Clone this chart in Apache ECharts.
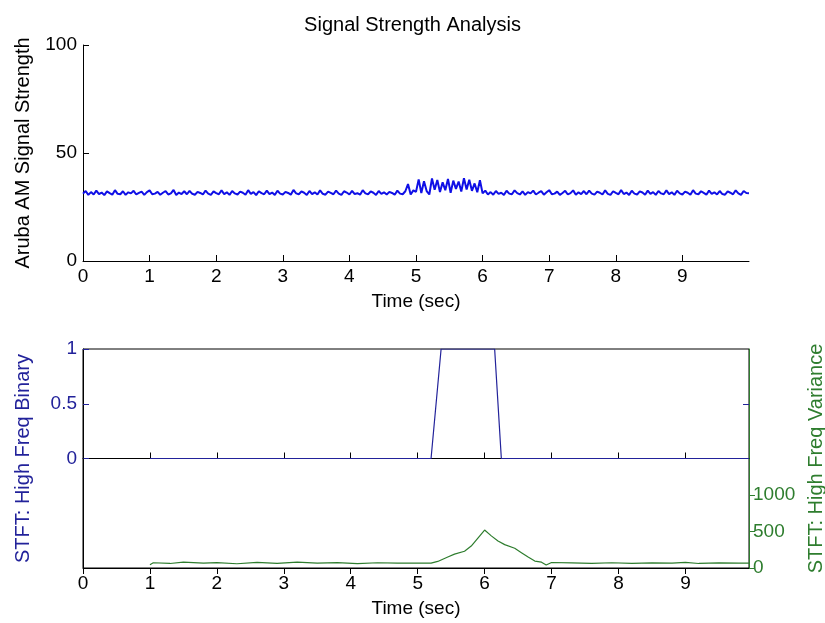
<!DOCTYPE html>
<html>
<head>
<meta charset="utf-8">
<script src="https://cdn.jsdelivr.net/npm/echarts@6/dist/echarts.min.js"></script>
<style>
html,body{margin:0;padding:0;background:#fff;}
#chart{width:825px;height:623px;}
</style>
</head>
<body>
<div id="chart"></div>
<script>
// ---- Data ----
const titleText = 'Signal Strength Analysis';
const xTicks = [0,1,2,3,4,5,6,7,8,9];
const topYTicks = [0,50,100];
const binYTicks = [0,0.5,1];
const varYTicks = [0,500,1000];

// top signal: sampled every 0.04 s starting at 0
const signalStart = 0;
const signalStep = 0.04;
const signalValues = [
31.2,32.4,30.6,31.9,30.8,32.6,31.0,31.7,30.5,32.2,
31.4,30.7,32.8,31.1,30.9,32.3,30.6,31.8,31.3,32.5,
30.8,31.5,32.1,30.6,31.9,32.7,30.9,31.2,32.0,30.7,
31.6,32.4,30.8,31.3,32.9,30.6,31.7,31.0,32.3,30.9,
32.5,31.1,30.7,32.0,31.5,30.8,32.6,31.2,30.6,32.2,
31.4,30.9,32.7,31.0,31.8,30.6,32.4,31.3,30.8,32.1,
31.6,30.7,32.8,31.1,31.9,30.5,32.3,31.4,30.9,32.6,
31.0,31.7,30.6,32.5,31.2,30.8,32.0,31.5,30.7,32.9,
31.3,30.9,32.2,31.6,30.6,32.4,31.0,31.8,30.8,32.7,
31.1,30.7,32.1,31.5,30.9,32.6,31.2,30.6,32.3,31.7,
30.8,32.5,31.0,31.4,30.7,32.8,31.3,30.9,32.2,31.6,
30.6,32.4,31.1,31.8,30.8,32.0,31.5,30.7,32.6,31.2,
30.9,32.3,35.6,30.8,32.7,
32.0,37.8,31.5,36.9,32.4,30.8,38.2,33.0,37.5,31.9,
36.4,32.8,38.0,31.6,37.2,33.4,36.8,32.2,38.3,33.1,
37.6,32.5,35.9,31.8,37.4,
31.3,32.6,30.8,31.9,30.7,32.4,31.1,31.6,30.6,32.5,
31.2,30.9,32.7,31.4,30.8,32.2,30.6,31.9,31.3,32.6,
30.8,31.6,32.3,30.7,31.8,32.8,30.9,31.2,32.1,30.6,
31.5,32.5,30.8,31.4,32.7,30.7,31.8,31.0,32.4,30.9,
32.6,31.2,30.7,32.1,31.6,30.8,32.7,31.1,30.6,32.3,
31.5,30.9,32.8,31.0,31.7,30.6,32.5,31.2,30.8,32.2,
31.7,30.7,32.6,31.1,31.9,30.6,32.4,31.3,30.9,32.7,
31.0,31.8,30.6,32.5,31.3,30.8,32.1,31.6,30.7,32.8,
31.2,30.9,32.3,31.5,30.7,32.6,31.1,31.8,30.8,32.4,
31.0,30.7,32.2,31.6,30.9,32.7,31.3,30.6,32.4,31.5,
31.4
];

// bottom: binary detector
const binTimes  = [1.0, 5.2, 5.35, 6.15, 6.25, 9.95];
const binValues = [0,   0,   1,    1,    0,    0];

// bottom: high frequency variance
const varTimes  = [1.0,1.05,1.3,1.5,1.8,2.0,2.3,2.6,2.9,3.2,3.5,3.8,4.1,4.4,4.7,5.0,5.2,5.3,5.45,5.55,5.7,5.8,5.9,6.0,6.1,6.2,6.3,6.45,6.55,6.65,6.75,6.85,6.92,7.0,7.3,7.6,7.9,8.2,8.5,8.8,9.0,9.2,9.5,9.8,9.95];
const varValues = [45,72,62,80,66,74,58,76,64,80,66,74,60,72,66,68,66,90,150,190,230,300,410,520,440,370,320,270,210,150,95,80,40,75,70,64,72,62,70,66,78,62,70,66,68];

// ---- Chart ----
const signalData = signalValues.map((v, i) => [signalStart + i * signalStep, v]);
const binData = binTimes.map((t, i) => [t, binValues[i]]);
const varData = varTimes.map((t, i) => [t, varValues[i]]);

const FONT = 'Liberation Sans, Arial, sans-serif';
const FS = 19;
const FSN = 20;
const NAVY = '#22229a';
const GREEN = '#2e7d2e';
const plain = v => String(v);

const chart = echarts.init(document.getElementById('chart'));
chart.setOption({
  animation: false,
  backgroundColor: '#fff',
  textStyle: { fontFamily: FONT },
  title: {
    text: titleText, left: 'center', top: 10,
    textStyle: { fontFamily: FONT, fontSize: FSN, fontWeight: 'normal', color: '#000' }
  },
  grid: [
    { left: 83, top: 45, width: 666, height: 216, outerBoundsMode: 'none', containLabel: false },
    { left: 83, top: 349, width: 666, height: 219, outerBoundsMode: 'none', containLabel: false,
      show: true, borderColor: '#000', borderWidth: 1, backgroundColor: 'transparent' }
  ],
  xAxis: [
    {
      gridIndex: 0, type: 'value', min: 0, max: 10,
      axisLine: { lineStyle: { color: '#000', width: 1 } },
      axisTick: { inside: true, length: 6, customValues: xTicks, lineStyle: { color: '#000' } },
      axisLabel: { customValues: xTicks, fontSize: FS, color: '#000', margin: 6, fontFamily: FONT, formatter: plain },
      splitLine: { show: false },
      name: 'Time (sec)', nameLocation: 'middle', nameGap: 31,
      nameTextStyle: { fontSize: FS, color: '#000', fontFamily: FONT }
    },
    {
      gridIndex: 1, type: 'value', min: 0, max: 9.95,
      axisLine: { lineStyle: { color: '#000', width: 1 } },
      axisTick: { inside: true, length: 6, customValues: xTicks, lineStyle: { color: '#000' } },
      axisLabel: { customValues: xTicks, fontSize: FS, color: '#000', margin: 6, fontFamily: FONT, formatter: plain },
      splitLine: { show: false },
      name: 'Time (sec)', nameLocation: 'middle', nameGap: 31,
      nameTextStyle: { fontSize: FS, color: '#000', fontFamily: FONT }
    },
    {
      gridIndex: 1, type: 'value', min: 0, max: 9.95, position: 'top',
      axisLine: { lineStyle: { color: '#000', width: 1 } },
      axisTick: { inside: true, length: 6, customValues: xTicks, lineStyle: { color: '#000' } },
      axisLabel: { show: false },
      splitLine: { show: false }
    }
  ],
  yAxis: [
    {
      gridIndex: 0, type: 'value', min: 0, max: 100,
      axisLine: { show: true, lineStyle: { color: '#000', width: 1 } },
      axisTick: { show: true, inside: true, length: 6, customValues: topYTicks, lineStyle: { color: '#000' } },
      axisLabel: { customValues: topYTicks, fontSize: FS, color: '#000', margin: 6, fontFamily: FONT, formatter: plain },
      splitLine: { show: false },
      name: 'Aruba AM Signal Strength', nameLocation: 'middle', nameRotate: 90, nameGap: 50,
      nameTextStyle: { fontSize: FSN, color: '#000', fontFamily: FONT }
    },
    {
      gridIndex: 1, type: 'value', min: -1, max: 1, position: 'left',
      axisLine: { show: true, onZero: false, lineStyle: { color: '#000', width: 1 } },
      axisTick: { show: true, inside: true, length: 6, customValues: binYTicks, lineStyle: { color: NAVY } },
      axisLabel: { customValues: binYTicks, fontSize: FS, color: NAVY, margin: 6, fontFamily: FONT, formatter: plain },
      splitLine: { show: false },
      name: 'STFT: High Freq Binary', nameLocation: 'middle', nameRotate: 90, nameGap: 50,
      nameTextStyle: { fontSize: FSN, color: NAVY, fontFamily: FONT }
    },
    {
      gridIndex: 1, type: 'value', min: 0, max: 3000, position: 'right',
      axisLine: { show: true, onZero: false, lineStyle: { color: GREEN, width: 1 } },
      axisTick: { show: true, inside: false, length: 6, customValues: varYTicks, lineStyle: { color: GREEN } },
      axisLabel: { customValues: varYTicks, fontSize: FS, color: GREEN, margin: 4, fontFamily: FONT, formatter: plain },
      splitLine: { show: false },
      name: 'STFT: High Freq Variance', nameLocation: 'middle', nameRotate: 90, nameGap: 51,
      nameTextStyle: { fontSize: FSN, color: GREEN, fontFamily: FONT }
    },
    {
      gridIndex: 1, type: 'value', min: -1, max: 1, position: 'right', offset: 0,
      axisLine: { show: false, onZero: false },
      axisTick: { show: true, inside: true, length: 6, customValues: [0.5], lineStyle: { color: NAVY } },
      axisLabel: { show: false },
      splitLine: { show: false }
    }
  ],
  series: [
    {
      type: 'line', xAxisIndex: 0, yAxisIndex: 0, data: signalData,
      showSymbol: false, symbol: 'none', lineStyle: { color: '#1010e6', width: 2 }
    },
    {
      type: 'line', xAxisIndex: 1, yAxisIndex: 1, data: binData,
      showSymbol: false, symbol: 'none', lineStyle: { color: NAVY, width: 1.2 }
    },
    {
      type: 'line', xAxisIndex: 1, yAxisIndex: 2, data: varData,
      showSymbol: false, symbol: 'none', lineStyle: { color: GREEN, width: 1.2 }
    }
  ]
});
</script>
</body>
</html>
